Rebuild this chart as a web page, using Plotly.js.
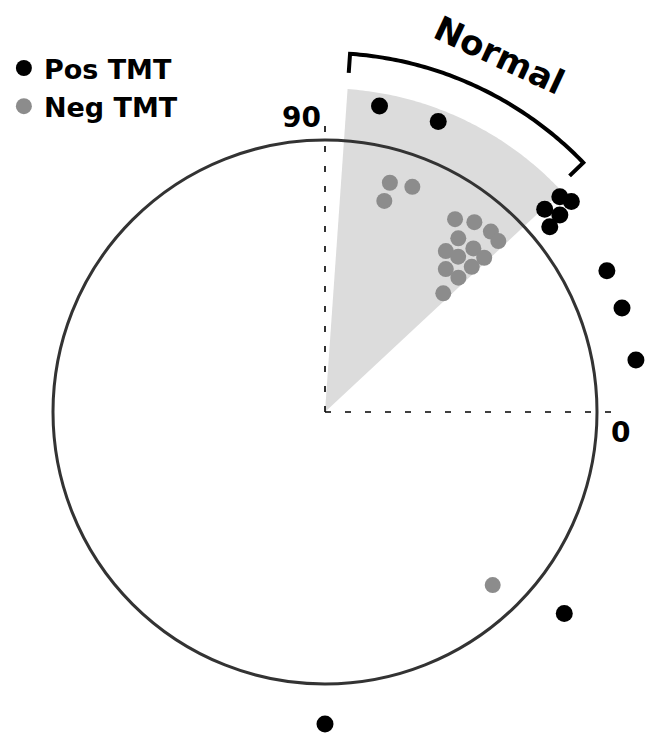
<!DOCTYPE html>
<html>
<head>
<meta charset="utf-8">
<script src="https://cdn.plot.ly/plotly-3.0.1.min.js"></script>
<style>html,body{margin:0;padding:0;background:#fff;}#chart{width:648px;height:733px;}</style>
</head>
<body>
<div id="chart"></div>
<script>
// ---- data (angle in degrees, radius relative to unit circle) ----
const seriesNames = ['Pos TMT', 'Neg TMT'];
const posAngle  = [79.9, 68.7, 42.5, 40.5, 42.7, 40.0, 39.5, 26.6, 19.3, 9.5, -40.1, -90];
const posRadius = [1.143, 1.146, 1.171, 1.191, 1.099, 1.127, 1.071, 1.159, 1.157, 1.159, 1.150, 1.147];
const negAngle  = [74.2, 68.8, 74.3, 56.0, 51.8, 47.4, 44.6, 52.5, 53.1, 47.8, 49.4, 44.1, 49.8, 44.7, 45.2, 45.1, -45.9];
const negRadius = [0.876, 0.888, 0.806, 0.855, 0.888, 0.901, 0.895, 0.805, 0.740, 0.812, 0.752, 0.815, 0.688, 0.759, 0.696, 0.616, 0.886];
const normalRange = [43, 86];      // shaded "Normal" sector, degrees
const normalLabel = 'Normal';
const axisLabels = ['90', '0'];

const rad = d => d * Math.PI / 180;
const toX = (a, r) => a.map((t, i) => r[i] * Math.cos(rad(t)));
const toY = (a, r) => a.map((t, i) => r[i] * Math.sin(rad(t)));

function arcPts(r, a0, a1, n) {
  const pts = [];
  for (let i = 0; i <= n; i++) {
    const t = a0 + (a1 - a0) * i / n;
    pts.push([r * Math.cos(rad(t)), r * Math.sin(rad(t))]);
  }
  return pts;
}
const P = p => p[0].toFixed(5) + ',' + p[1].toFixed(5);

// wedge path
const wedgeR = 1.19;
let wedge = 'M 0,0 ' + arcPts(wedgeR, normalRange[0], normalRange[1], 80).map(p => 'L ' + P(p)).join(' ') + ' Z';

// bracket path
const brR = 1.32, brIn = 1.25, brA0 = 86, brA1 = 44;
const brArc = arcPts(brR, brA0, brA1, 80);
let bracket = 'M ' + P([brIn * Math.cos(rad(brA0)), brIn * Math.sin(rad(brA0))]) + ' ' +
  brArc.map(p => 'L ' + P(p)).join(' ') + ' L ' + P([brIn * Math.cos(rad(brA1)), brIn * Math.sin(rad(brA1))]);

const traces = [
  {
    x: toX(posAngle, posRadius), y: toY(posAngle, posRadius),
    mode: 'markers', type: 'scatter', name: seriesNames[0],
    marker: {color: '#000000', size: 17, line: {width: 0}},
    hoverinfo: 'skip'
  },
  {
    x: toX(negAngle, negRadius), y: toY(negAngle, negRadius),
    mode: 'markers', type: 'scatter', name: seriesNames[1],
    marker: {color: '#8c8c8c', size: 16, line: {width: 0}},
    hoverinfo: 'skip'
  }
];

const S = 272;
const layout = {
  width: 648, height: 733,
  margin: {l: 0, r: 0, t: 0, b: 0},
  paper_bgcolor: '#ffffff', plot_bgcolor: '#ffffff',
  xaxis: {range: [-325 / S, 323 / S], visible: false, fixedrange: true},
  yaxis: {range: [(412 - 733) / S, 412 / S], visible: false, fixedrange: true},
  showlegend: true,
  legend: {
    x: 0.006, y: 0.94, xanchor: 'left', yanchor: 'top',
    bgcolor: 'rgba(0,0,0,0)', tracegroupgap: 0,
    font: {family: 'DejaVu Sans', size: 27, color: '#000', weight: 'bold'}
  },
  shapes: [
    {type: 'path', path: wedge, xref: 'x', yref: 'y', fillcolor: '#dcdcdc', line: {width: 0}, layer: 'below'},
    {type: 'line', x0: 0, y0: 0, x1: 0, y1: 1.085, xref: 'x', yref: 'y', line: {color: '#000', width: 1.6, dash: '6px,14px'}, layer: 'below'},
    {type: 'line', x0: 0, y0: 0, x1: 1.09, y1: 0, xref: 'x', yref: 'y', line: {color: '#000', width: 1.6, dash: '6px,14px'}, layer: 'below'},
    {type: 'circle', x0: -1, y0: -1, x1: 1, y1: 1, xref: 'x', yref: 'y', line: {color: '#333333', width: 3}, layer: 'below'},
    {type: 'path', path: bracket, xref: 'x', yref: 'y', line: {color: '#000', width: 4}, layer: 'above'}
  ],
  annotations: [
    {x: -0.085, y: 1.082, xref: 'x', yref: 'y', text: axisLabels[0], showarrow: false,
     font: {family: 'DejaVu Sans', size: 28, color: '#000', weight: 'bold'}},
    {x: 1.088, y: -0.075, xref: 'x', yref: 'y', text: axisLabels[1], showarrow: false,
     font: {family: 'DejaVu Sans', size: 28, color: '#000', weight: 'bold'}},
    {x: 1.46 * Math.cos(rad(64)), y: 1.46 * Math.sin(rad(64)), xref: 'x', yref: 'y',
     text: normalLabel, showarrow: false, textangle: 25,
     font: {family: 'DejaVu Sans', size: 34, color: '#000', weight: 'bold'}}
  ]
};

Plotly.newPlot('chart', traces, layout, {staticPlot: true, displayModeBar: false});
</script>
</body>
</html>
